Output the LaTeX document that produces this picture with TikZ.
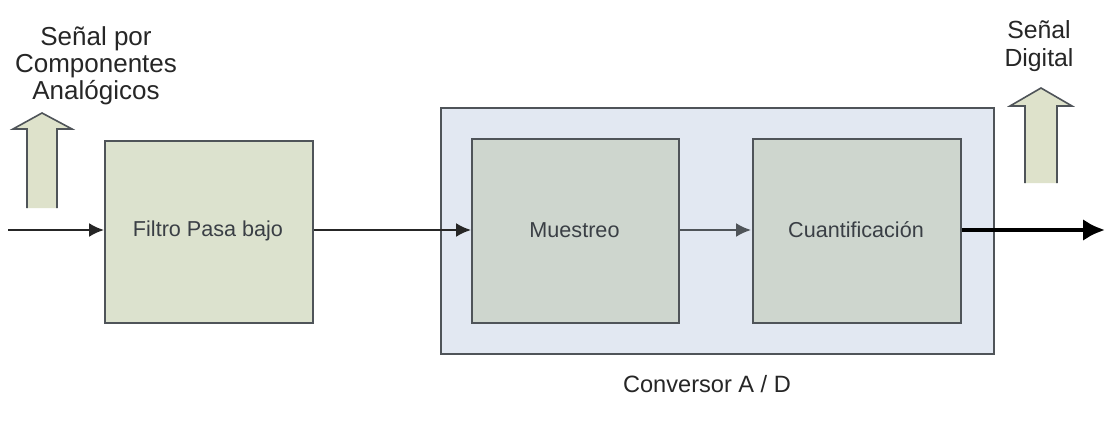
\documentclass[tikz,border=0pt]{standalone}
\usepackage{fontspec}
\setmainfont{Liberation Sans}
\usetikzlibrary{arrows.meta}
\definecolor{edge}{HTML}{4F5459}
\definecolor{txt}{HTML}{3A3F45}
\definecolor{filtfill}{HTML}{DCE2CE}
\definecolor{convfill}{HTML}{E2E8F2}
\definecolor{innerfill}{HTML}{CED6CE}
\definecolor{bigarrow}{HTML}{DEE2CB}
\tikzset{
  x=0.5pt, y=-0.5pt,
  block/.style={draw=edge, line width=0.9pt, inner sep=0pt, anchor=north west},
  lbl/.style={font=\fontsize{13}{13.4}\selectfont, align=center, text=black!85},
  boxtext/.style={font=\fontsize{10.8}{12}\selectfont, text=txt},
  flow/.style={draw=black!85, line width=1pt, -{Latex[length=7.5pt,width=7pt]}},
  flowin/.style={draw=edge, line width=1pt, -{Latex[length=7.5pt,width=7pt]}, shorten >=0.5pt},
  outflow/.style={draw=black, line width=2.2pt, -{Latex[length=11pt,width=11pt]}},
  uparrow/.style={draw=edge, line width=0.8pt, fill=bigarrow}
}
\begin{document}
\begin{tikzpicture}
\useasboundingbox[fill=white] (0,0) rectangle (1105,423);

% blocks
\node[block, fill=filtfill, minimum width=104pt, minimum height=91pt] (filtro) at (104,140) {};
\node[block, fill=convfill, minimum width=276.5pt, minimum height=123pt] (conv) at (440,107) {};
\node[block, fill=innerfill, minimum width=103.5pt, minimum height=92pt] (muestreo) at (471,138) {};
\node[block, fill=innerfill, minimum width=104pt, minimum height=92pt] (cuant) at (752,138) {};

\node[boxtext] at (208,231) {Filtro Pasa bajo};
\node[boxtext] at (574.5,230) {Muestreo};
\node[boxtext] at (856,230) {Cuantificación};

% labels
\node[lbl] (entrada) at (96,66) {Señal por\\Componentes\\Analógicos};
\node[lbl, font=\fontsize{12.4}{14}\selectfont] (salida) at (1039,46) {Señal\\Digital};
\node[font=\fontsize{11.8}{13}\selectfont, text=black!85] (convlbl) at (707,384) {Conversor A / D};

% signal path
\coordinate (inicio) at (8,230);
\coordinate (fin) at (1105,230);
\draw[flow] (inicio) -- (filtro.west |- inicio);
\draw[flow] (filtro.east |- inicio) -- (muestreo.west |- inicio);
\draw[flowin] (muestreo.east |- inicio) -- (cuant.west |- inicio);
\draw[outflow] (cuant.east |- inicio) -- (fin);

% hollow up arrows beside the labels
\draw[uparrow] (27,208) -- (27,129) -- (13,129) -- (42,113) -- (72,129) -- (57,129) -- (57,208);
\draw[uparrow] (1025,183) -- (1025,106) -- (1010,106) -- (1041,88) -- (1072,106) -- (1057,106) -- (1057,183);
\end{tikzpicture}
\end{document}
